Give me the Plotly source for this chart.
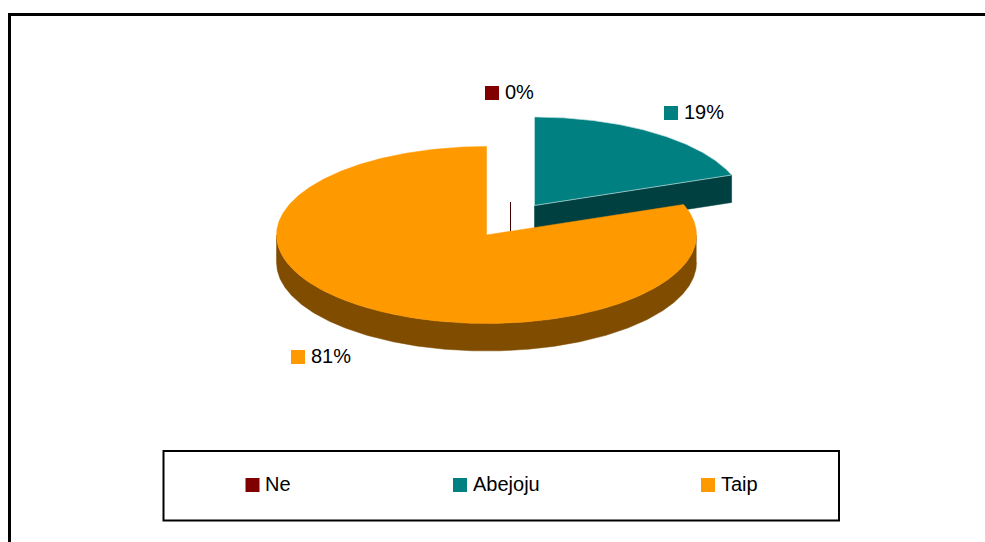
import math
import plotly.graph_objects as go

# --- data ---
categories = ["Ne", "Abejoju", "Taip"]
values = [0.0, 19.4, 80.6]
top_colors = ["#800000", "#008080", "#FF9900"]
side_colors = ["#400000", "#004040", "#804D00"]

# --- pie projection (pixel space) ---
RX, RY, DEPTH = 210, 88.5, 27.5
centers = [(510.5, 202.0), (534.5, 205.5), (486.5, 235.0)]
label_pos = [(492, 93), (671, 113), (298, 357)]
legend_pos = [(252.5, 485), (460, 485), (708, 485)]
FONT = "Liberation Sans, Arial, sans-serif"


def rim(c, deg):
    a = math.radians(deg)
    return c[0] + RX * math.sin(a), c[1] - RY * math.cos(a)


def arc(c, a0, a1):
    n = max(2, int(abs(a1 - a0) * 2) + 1)
    pts = [rim(c, a0 + (a1 - a0) * i / (n - 1)) for i in range(n)]
    return [p[0] for p in pts], [p[1] for p in pts]


def poly(fig, xs, ys, color, line=None, width=0):
    fig.add_trace(go.Scatter(
        x=xs, y=ys, mode="lines", fill="toself", fillcolor=color,
        line=dict(color=line or color, width=width or 0.5),
        hoverinfo="skip", showlegend=False))


spans = []
start = 0.0
for v in values:
    spans.append((start, start + v * 3.6))
    start += v * 3.6
# order of angles: Ne (0 wide), Abejoju, Taip
fig = go.Figure()

# Abejoju: cut face that looks toward the viewer
c = centers[1]
a0, a1 = spans[1]
px, py = rim(c, a1)
poly(fig, [c[0], px, px, c[0], c[0]],
     [c[1], py, py + DEPTH, c[1] + DEPTH, c[1]], side_colors[1])
# Abejoju: top
xs, ys = arc(c, a0, a1)
poly(fig, [c[0]] + xs + [c[0]], [c[1]] + ys + [c[1]], top_colors[1], "#BFDFDF", 0.7)

# Ne: zero-width slice shows only as a thin wall
c = centers[0]
fig.add_trace(go.Scatter(
    x=[c[0], c[0]], y=[c[1], c[1] + DEPTH + 2], mode="lines",
    line=dict(color=side_colors[0], width=1), hoverinfo="skip", showlegend=False))

# Taip: outer wall, lower half of the rim
c = centers[2]
xs, ys = arc(c, 90, 270)
poly(fig, xs + [rim(c, 270)[0]] + xs[::-1],
     ys + [ys[-1]] + [y + DEPTH for y in ys[::-1]], side_colors[2])
# Taip: top
a0, a1 = spans[2]
xs, ys = arc(c, a0, a1)
poly(fig, [c[0]] + xs + [c[0]], [c[1]] + ys + [c[1]], top_colors[2])

# data labels
for i, v in enumerate(values):
    fig.add_trace(go.Scatter(
        x=[label_pos[i][0]], y=[label_pos[i][1]], mode="markers",
        marker=dict(symbol="square", size=14, color=top_colors[i], line=dict(width=0)),
        hoverinfo="skip", showlegend=False))
    fig.add_annotation(
        x=label_pos[i][0] + 10.5, y=label_pos[i][1] - 1, text=f"{round(v)}%", showarrow=False,
        xanchor="left", yanchor="middle", font=dict(family=FONT, size=20, color="#000000"))

# legend
for i, name in enumerate(categories):
    fig.add_trace(go.Scatter(
        x=[legend_pos[i][0]], y=[legend_pos[i][1]], mode="markers",
        marker=dict(symbol="square", size=14, color=top_colors[i], line=dict(width=0)),
        hoverinfo="skip", showlegend=False))
    fig.add_annotation(
        x=legend_pos[i][0] + 10.5, y=legend_pos[i][1] - 1, text=name, showarrow=False,
        xanchor="left", yanchor="middle", font=dict(family=FONT, size=20, color="#000000"))

fig.update_layout(
    width=985, height=542, margin=dict(l=0, r=0, t=0, b=0),
    paper_bgcolor="white", plot_bgcolor="white", showlegend=False,
    xaxis=dict(range=[0, 985], visible=False, fixedrange=True),
    yaxis=dict(range=[542, 0], visible=False, fixedrange=True),
    shapes=[
        dict(type="line", x0=9.5, x1=9.5, y0=13, y1=542, line=dict(color="black", width=3), layer="below"),
        dict(type="line", x0=8, x1=985, y0=14.5, y1=14.5, line=dict(color="black", width=3), layer="below"),
        dict(type="rect", x0=163.5, x1=839, y0=451, y1=520.5, line=dict(color="black", width=2), layer="below"),
    ],
)
fig.write_html("out.html", config={"displayModeBar": False},
               post_script="document.body.style.margin='0';document.body.style.overflow='hidden';")
